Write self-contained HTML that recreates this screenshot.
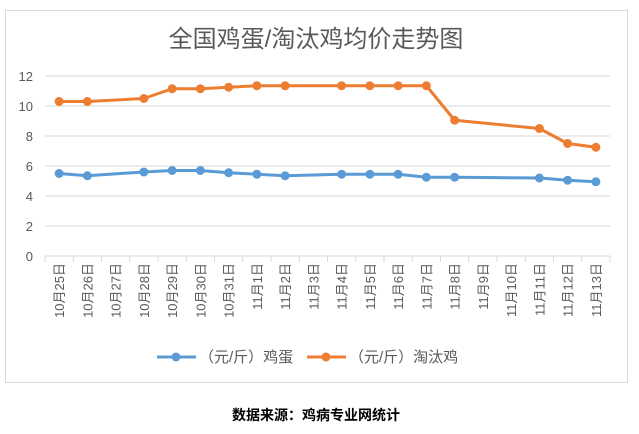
<!DOCTYPE html>
<html><head><meta charset="utf-8">
<style>
body{margin:0;background:#fff;width:639px;height:429px;overflow:hidden;font-family:"Liberation Sans","Noto Sans CJK SC",sans-serif;}
</style></head>
<body>
<svg id="chart" width="639" height="429" xmlns="http://www.w3.org/2000/svg">
<rect x="5.5" y="10.5" width="622" height="372" fill="#fff" stroke="#d9d9d9"/>
<text x="316" y="47" text-anchor="middle" font-size="24" fill="#595959" font-family="Liberation Sans,Noto Sans CJK SC,sans-serif">全国鸡蛋/淘汰鸡均价走势图</text>
<g id="grid"></g><g id="xaxis"></g><g id="series"></g>
<g>
<line x1="157" y1="357" x2="196" y2="357" stroke="#5b9bd5" stroke-width="3"/><circle cx="176" cy="357" r="4.5" fill="#5b9bd5"/>
<text x="199" y="362" font-size="15" fill="#595959">（元/斤）鸡蛋</text>
<line x1="307" y1="357" x2="346" y2="357" stroke="#ed7d31" stroke-width="3"/><circle cx="326" cy="357" r="4.5" fill="#ed7d31"/>
<text x="349" y="362" font-size="15" fill="#595959">（元/斤）淘汰鸡</text>
</g>
<text x="316" y="420" text-anchor="middle" font-size="14" font-weight="bold" fill="#000">数据来源：鸡病专业网统计</text>
</svg>
<script>
const categories=["10月25日","10月26日","10月27日","10月28日","10月29日","10月30日","10月31日","11月1日","11月2日","11月3日","11月4日","11月5日","11月6日","11月7日","11月8日","11月9日","11月10日","11月11日","11月12日","11月13日"];
const eggValues=[5.5,5.35,null,5.6,5.7,5.7,5.55,5.45,5.35,null,5.45,5.45,5.45,5.25,5.25,null,null,5.2,5.05,4.95];
const henValues=[10.3,10.3,null,10.5,11.15,11.15,11.25,11.35,11.35,null,11.35,11.35,11.35,11.35,9.05,null,null,8.5,7.5,7.25];
const yTicks=[0,2,4,6,8,10,12];
const NS="http://www.w3.org/2000/svg";
const L=45,R=610,T=76,B=256,ymax=12;
const bw=(R-L)/categories.length;
const xs=i=>L+bw*(i+0.5);
const ys=v=>B-(v/ymax)*(B-T);
function mk(tag,attrs,parent){const e=document.createElementNS(NS,tag);for(const k in attrs)e.setAttribute(k,attrs[k]);document.getElementById(parent).appendChild(e);return e;}
yTicks.forEach(t=>{
 const g=mk('line',{x1:L,x2:R,y1:ys(t),y2:ys(t),stroke:'#d9d9d9','stroke-width':1},'grid');
 
 
 const tx=mk('text',{x:L-12,y:ys(t)+5,'text-anchor':'end','font-size':13,fill:'#595959'},'grid');
 tx.textContent=t;
 
 
});
for(let i=0;i<=categories.length;i++){
 const x=L+bw*i;
 const tk=mk('line',{x1:x,x2:x,y1:B,y2:B+6,stroke:'#d9d9d9'},'xaxis');
 
 
}
categories.forEach((c,i)=>{
 const x=xs(i)+5,y=B+7;
 const tx=mk('text',{x:x,y:y,transform:`rotate(-90 ${x} ${y})`,'text-anchor':'end','font-size':13,fill:'#595959'},'xaxis');
 tx.textContent=c;
 
 
});
function draw(vals,color,name){
 const pts=[];vals.forEach((v,i)=>{if(v!==null)pts.push([xs(i),ys(v)]);});
 const p=mk('polyline',{points:pts.map(p=>p.join(',')).join(' '),fill:'none',stroke:color,'stroke-width':3,'stroke-linejoin':'round'},'series');
 
 
 pts.forEach(q=>{
  const c=mk('circle',{cx:q[0],cy:q[1],r:4.5,fill:color},'series');
  
  
 });
}
draw(eggValues,'#5b9bd5','egg');
draw(henValues,'#ed7d31','hen');
</script>
</body></html>
